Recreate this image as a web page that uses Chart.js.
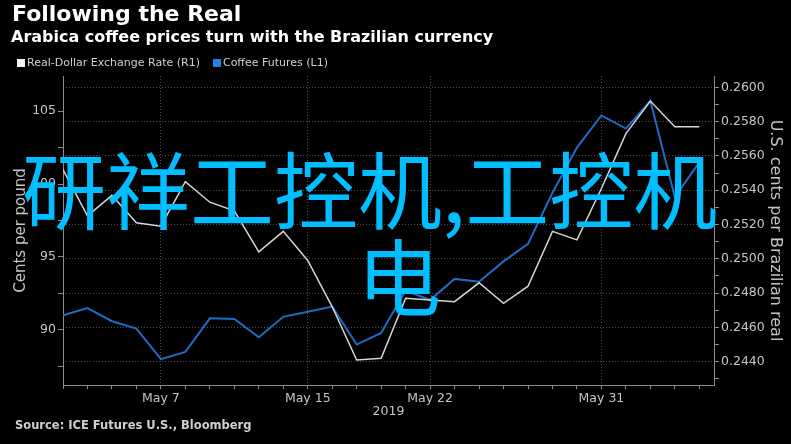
<!DOCTYPE html>
<html>
<head>
<meta charset="utf-8">
<script src="https://cdn.jsdelivr.net/npm/chart.js@4/dist/chart.umd.min.js"></script>
<style>
  html, body { margin: 0; padding: 0; background: #000; }
  #wrap { position: relative; width: 791px; height: 444px; overflow: hidden; background: #000; font-family: "DejaVu Sans", sans-serif; }
  #chart { position: absolute; left: 0; top: 0; }
  .title { position: absolute; left: 12px; top: 1px; color: #fff; font-weight: bold; font-size: 22px; }
  .subtitle { position: absolute; left: 11px; top: 27px; color: #fff; font-weight: bold; font-size: 16px; }
  .legend { position: absolute; left: 17px; top: 56px; color: #d0d0d0; font-size: 11px; display: flex; align-items: center; }
  .legend span.box { display: inline-block; width: 8px; height: 8px; margin-right: 2px; }
  .legend span.item { margin-right: 13px; }
  .source { position: absolute; left: 15px; top: 418px; color: #d0d0d0; font-weight: bold; font-size: 11.5px; }
  .stamp { position: absolute; color: rgb(0, 190, 255); font-family: "Noto Sans CJK SC", sans-serif; font-size: 84px; line-height: 84px; white-space: nowrap; }
</style>
</head>
<body>
<div id="wrap">
  <canvas id="chart" width="791" height="444"></canvas>
  <div class="title">Following the Real</div>
  <div class="subtitle">Arabica coffee prices turn with the Brazilian currency</div>
  <div class="legend">
    <span class="box" style="background:#f2f2f2"></span><span class="item">Real-Dollar Exchange Rate (R1)</span>
    <span class="box" style="background:#2b7de0"></span><span class="item">Coffee Futures (L1)</span>
  </div>
  <div class="source">Source: ICE Futures U.S., Bloomberg</div>
  <div class="stamp" style="left:22px; top:145px;">研祥工控机,工控机</div>
  <div class="stamp" style="left:357px; top:232px;">电</div>
</div>
<script>
const days = ['May 1', 'May 2', 'May 3', 'May 6', 'May 7', 'May 8', 'May 9', 'May 10', 'May 13', 'May 14',
  'May 15', 'May 16', 'May 17', 'May 20', 'May 21', 'May 22', 'May 23', 'May 24', 'May 27', 'May 28',
  'May 29', 'May 30', 'May 31', 'Jun 3', 'Jun 4', 'Jun 5', 'Jun 6'];
const majorDays = ['May 7', 'May 15', 'May 22', 'May 31'];

// Real-Dollar exchange rate, right axis
const realDollar = [0.2552, 0.2525, 0.2537, 0.2521, 0.2519, 0.2545, 0.2533, 0.2528, 0.2504, 0.2516,
  0.2499, 0.2472, 0.2441, 0.2442, 0.2477, 0.2476, 0.2475, 0.2486, 0.2474, 0.2484,
  0.2516, 0.2511, 0.2541, 0.2573, 0.2592, 0.2577, 0.2577];

// Coffee futures, cents per pound, left axis
const coffee = [91.0, 91.5, 90.6, 90.1, 88.0, 88.5, 90.8, 90.75, 89.5, 90.9,
  91.25, 91.6, 89.0, 89.8, 92.7, 92.05, 93.5, 93.3, 94.7, 95.9,
  99.4, 102.5, 104.7, 103.8, 105.7, 99.1, 101.5];

const leftTicks = [87.5, 90, 92.5, 95, 97.5, 100, 102.5, 105];
const rightTicks = [0.243, 0.244, 0.245, 0.246, 0.247, 0.248, 0.249, 0.250, 0.251, 0.252,
  0.253, 0.254, 0.255, 0.256, 0.257, 0.258, 0.259, 0.260];

const tickFont = { family: "'DejaVu Sans', sans-serif", size: 12.5 };
const textGray = '#c4c4c4';
const axisGray = '#8c8c8c';
const dotGrid = 'rgba(255,255,255,0.3)';

const isMajorRate = v => Math.round(v * 1000) % 2 === 0;

new Chart(document.getElementById('chart'), {
  type: 'line',
  data: {
    datasets: [
      {
        label: 'Real-Dollar Exchange Rate (R1)',
        data: realDollar.map((v, i) => ({ x: i, y: v })),
        yAxisID: 'y1',
        borderColor: '#d6d6d6',
        borderWidth: 1.5,
        pointRadius: 0,
        tension: 0,
      },
      {
        label: 'Coffee Futures (L1)',
        data: coffee.map((v, i) => ({ x: i, y: v })),
        yAxisID: 'y',
        borderColor: '#1f6cc4',
        borderWidth: 2,
        pointRadius: 0,
        tension: 0,
      },
    ],
  },
  options: {
    responsive: false,
    animation: false,
    devicePixelRatio: 1,
    layout: { padding: { top: 76, left: 0, right: 0, bottom: 0 } },
    plugins: { legend: { display: false }, tooltip: { enabled: false } },
    scales: {
      x: {
        type: 'linear',
        min: 0,
        max: 26.6,
        afterBuildTicks: s => { s.ticks = days.map((d, i) => ({ value: i })); },
        afterFit: s => { s.height = 59; },
        ticks: {
          autoSkip: false,
          maxRotation: 0,
          padding: 2,
          color: textGray,
          font: tickFont,
          callback: v => majorDays.includes(days[v]) ? days[v] : '',
        },
        grid: {
          color: c => c.tick && majorDays.includes(days[c.tick.value]) ? dotGrid : 'rgba(0,0,0,0)',
          tickColor: axisGray,
          tickLength: 4,
          lineWidth: 1,
        },
        border: { display: true, color: axisGray, width: 1, dash: [1, 2] },
        title: { display: true, text: '2019', color: textGray, font: tickFont, padding: { bottom: 25 } },
      },
      y: {
        position: 'left',
        min: 86.23,
        max: 107.4,
        afterBuildTicks: s => { s.ticks = leftTicks.map(v => ({ value: v })); },
        afterFit: s => { s.width = 63; },
        ticks: {
          autoSkip: false,
          padding: 2,
          color: textGray,
          font: tickFont,
          callback: v => v % 5 === 0 ? String(v) : '',
        },
        grid: { drawOnChartArea: false, tickColor: axisGray, tickLength: 5 },
        border: { display: true, color: axisGray, width: 1 },
        title: { display: true, text: 'Cents per pound', color: textGray, font: { family: "'DejaVu Sans', sans-serif", size: 15 }, padding: { top: 12 } },
      },
      y1: {
        position: 'right',
        min: 0.24264,
        max: 0.26066,
        afterBuildTicks: s => { s.ticks = rightTicks.map(v => ({ value: v })); },
        afterFit: s => { s.width = 77; },
        ticks: {
          autoSkip: false,
          padding: 2,
          color: textGray,
          font: tickFont,
          callback: v => isMajorRate(v) ? v.toFixed(4) : '',
        },
        grid: {
          drawOnChartArea: true,
          color: c => c.tick && isMajorRate(c.tick.value) ? dotGrid : 'rgba(0,0,0,0)',
          tickColor: axisGray,
          tickLength: 5,
        },
        border: { display: true, color: axisGray, width: 1, dash: [1, 2] },
        title: { display: true, text: 'U.S. cents per Brazilian real', color: textGray, font: { family: "'DejaVu Sans', sans-serif", size: 16 }, padding: { top: 6 } },
      },
    },
  },
});
</script>
</body>
</html>
